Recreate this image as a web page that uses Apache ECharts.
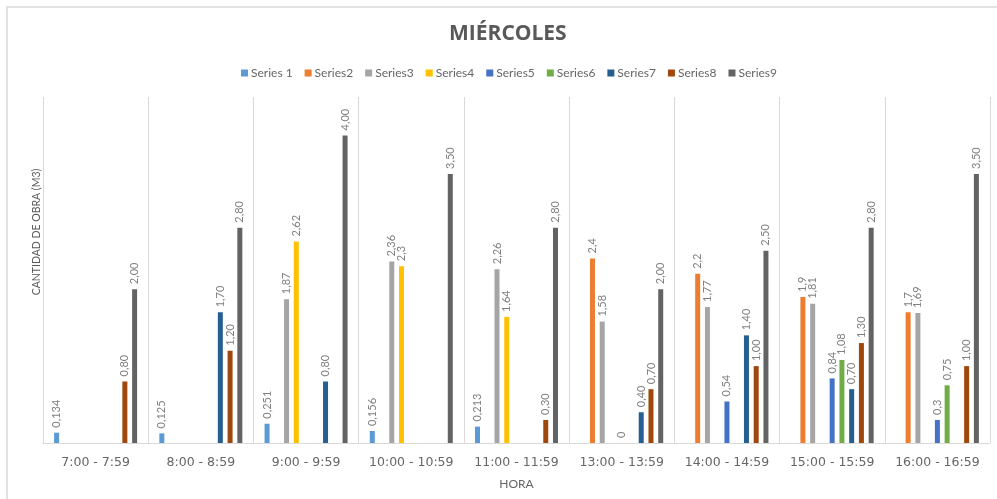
<!DOCTYPE html>
<html>
<head>
<meta charset="utf-8">
<script src="https://cdn.jsdelivr.net/npm/echarts@6/dist/echarts.min.js"></script>
<style>
html,body{margin:0;padding:0;background:#fff;}
#chart{width:997px;height:499px;}
</style>
</head>
<body>
<div id="chart"></div>
<script>
var categories = ["7:00 - 7:59","8:00 - 8:59","9:00 - 9:59","10:00 - 10:59","11:00 - 11:59","13:00 - 13:59","14:00 - 14:59","15:00 - 15:59","16:00 - 16:59"];
var seriesNames = ["Series 1","Series2","Series3","Series4","Series5","Series6","Series7","Series8","Series9"];
var series1 = [0.134, 0.125, 0.251, 0.156, 0.213, null, null, null, null];
var series2 = [null, null, null, null, null, 2.4, 2.2, 1.9, 1.7];
var series3 = [null, null, 1.87, 2.36, 2.26, 1.58, 1.77, 1.81, 1.69];
var series4 = [null, null, 2.62, 2.3, 1.64, null, null, null, null];
var series5 = [null, null, null, null, null, 0, 0.54, 0.84, 0.3];
var series6 = [null, null, null, null, null, null, null, 1.08, 0.75];
var series7 = [null, 1.70, 0.80, null, null, 0.40, 1.40, 0.70, null];
var series8 = [0.80, 1.20, null, null, 0.30, 0.70, 1.00, 1.30, 1.00];
var series9 = [2.00, 2.80, 4.00, 3.50, 2.80, 2.00, 2.50, 2.80, 3.50];
var labelDecimals = [3, null, 2, null, null, null, 2, 2, 2];

var allData = [series1, series2, series3, series4, series5, series6, series7, series8, series9];
var colors = ["#5B9BD5","#ED7D31","#A5A5A5","#FFC000","#4472C4","#70AD47","#255E91","#9E480E","#636363"];
var FONT = "Lato";

var series = allData.map(function(d, i){
  return {
    name: seriesNames[i],
    type: 'bar',
    data: d,
    barWidth: 5,
    barGap: '95%',
    itemStyle: {color: colors[i]},
    label: {
      show: true,
      position: 'top',
      rotate: 90,
      align: 'left',
      verticalAlign: 'middle',
      distance: 5,
      color: '#808080',
      fontFamily: FONT,
      fontSize: 11,
      formatter: function(p){
        if (p.value === null || p.value === undefined) return '';
        var dec = labelDecimals[i];
        var s = (dec === null) ? String(p.value) : p.value.toFixed(dec);
        return s.replace('.', ',');
      }
    }
  };
});

var chart = echarts.init(document.getElementById('chart'), null, {renderer:'canvas'});
chart.setOption({
  animation: false,
  color: colors,
  title: {
    text: 'MIÉRCOLES',
    left: 444,
    top: 19,
    textStyle: {fontFamily: 'Open Sans', fontWeight: 'bold', fontSize: 21, color: '#595959'}
  },
  legend: {
    top: 62,
    left: 236,
    itemWidth: 7,
    itemHeight: 7,
    itemGap: 12,
    icon: 'rect',
    textStyle: {fontFamily: FONT, fontSize: 12, color: '#666666', padding: [0,0,0,-2]},
    data: seriesNames
  },
  grid: {left: 43, right: 7, top: 97, bottom: 56, containLabel: false},
  xAxis: {
    type: 'category',
    data: categories,
    name: 'HORA',
    nameLocation: 'middle',
    nameGap: 35,
    nameTextStyle: {fontFamily: FONT, fontSize: 12, color: '#666666'},
    axisLine: {show: true, lineStyle: {color: '#d9d9d9'}},
    axisTick: {show: false},
    splitLine: {show: true, interval: 0, lineStyle: {color: '#d9d9d9'}},
    axisLabel: {fontFamily: 'DejaVu Sans', fontSize: 12.5, color: '#666666', margin: 13, interval: 0}
  },
  yAxis: {
    type: 'value',
    min: 0,
    max: 4.5,
    axisLine: {show: false},
    axisTick: {show: false},
    axisLabel: {show: false},
    splitLine: {show: false}
  },
  graphic: [
    {type: 'rect', shape: {x: 7, y: 7, width: 1100, height: 600}, style: {fill: 'none', stroke: '#d9d9d9', lineWidth: 1.5}, silent: true},
    {type: 'text', x: 37, y: 232, rotation: Math.PI/2,
     style: {text: 'CANTIDAD DE OBRA (M3)', fontFamily: FONT, fontSize: 10.5, fill: '#595959', textAlign: 'center', textVerticalAlign: 'middle'}}
  ],
  series: series
});
</script>
</body>
</html>
